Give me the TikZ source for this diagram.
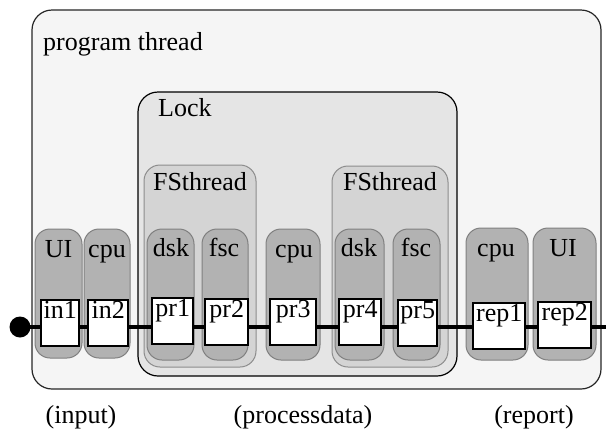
\documentclass[tikz,border=0pt]{standalone}
\usepackage{fontspec}
\setmainfont{Liberation Serif}
\pgfdeclarelayer{bg}
\pgfsetlayers{bg,main}
\tikzset{
  txt/.style={font=\rmfamily\fontsize{26}{30}\selectfont, inner sep=0pt},
  outerbox/.style={draw=black!85, line width=1.2pt, fill=black!4, rounded corners=20pt},
  lockbox/.style={draw=black, line width=1.2pt, fill=black!10, rounded corners=20pt},
  fsbox/.style={draw=black!45, line width=1pt, fill=black!17, rounded corners=16pt},
  pill/.style={draw=black!50, line width=1pt, fill=black!30, rounded corners=15pt},
  wbox/.style={draw=black, line width=2.4pt, fill=white, inner sep=0pt, anchor=north west},
  wlab/.style={txt, anchor=north, yshift=-2pt},
  flow/.style={line width=4pt, draw=black},
}
\begin{document}
\begin{tikzpicture}[x=1pt, y=-1pt]
\useasboundingbox (0,0) rectangle (606,429);

% white boxes with labels
\node[wbox, minimum width=38, minimum height=46] (in1) at (40,299) {};
\node[wlab] (in1t) at (in1.north) {in1};
\node[wbox, minimum width=40, minimum height=46] (in2) at (87,299) {};
\node[wlab] (in2t) at (in2.north) {in2};
\node[wbox, minimum width=41, minimum height=46] (pr1) at (151,297) {};
\node[wlab] (pr1t) at (pr1.north) {pr1};
\node[wbox, minimum width=43, minimum height=46] (pr2) at (204,298) {};
\node[wlab] (pr2t) at (pr2.north) {pr2};
\node[wbox, minimum width=46, minimum height=46] (pr3) at (269,298) {};
\node[wlab] (pr3t) at (pr3.north) {pr3};
\node[wbox, minimum width=42, minimum height=46] (pr4) at (338,298) {};
\node[wlab] (pr4t) at (pr4.north) {pr4};
\node[wbox, minimum width=39, minimum height=46] (pr5) at (397,299) {};
\node[wlab] (pr5t) at (pr5.north) {pr5};
\node[wbox, minimum width=52, minimum height=46] (rep1) at (472,302) {};
\node[wlab] (rep1t) at (rep1.north) {rep1};
\node[wbox, minimum width=53, minimum height=46] (rep2) at (537,301) {};
\node[wlab] (rep2t) at (rep2.north) {rep2};

% start dot and line end
\node[circle, fill=black, minimum size=21pt, inner sep=0pt] (dot) at (20,327) {};
\coordinate (lineend) at (606,327);

% container labels
\node[txt, anchor=base west] (ptl) at (43,50) {program thread};
\node[txt, anchor=base west] (lockl) at (158,116) {Lock};
\node[txt, anchor=base] (fs1l) at (200,190) {FSthread};
\node[txt, anchor=base] (fs2l) at (390,190) {FSthread};
\node[txt, anchor=base] (l1) at (58.5,257) {UI};
\node[txt, anchor=base] (l2) at (107,257) {cpu};
\node[txt, anchor=base] (l3) at (171,256) {dsk};
\node[txt, anchor=base] (l4) at (224,256) {fsc};
\node[txt, anchor=base] (l5) at (294,257) {cpu};
\node[txt, anchor=base] (l6) at (359,256) {dsk};
\node[txt, anchor=base] (l7) at (416,256) {fsc};
\node[txt, anchor=base] (l8) at (496,256) {cpu};
\node[txt, anchor=base] (l9) at (563,256) {UI};

% bottom captions
\node[txt, anchor=base] (cap1) at (81,423) {(input)};
\node[txt, anchor=base] (cap2) at (303,423) {(processdata)};
\node[txt, anchor=base] (cap3) at (534,423) {(report)};

\begin{pgfonlayer}{bg}
\draw[outerbox] (32,10) rectangle (601,389);
\draw[lockbox] (138,92) rectangle (457,376);
\draw[fsbox] (144,165) rectangle (256,367);
\draw[fsbox] (332,166) rectangle (448,367);
\draw[pill] (35,229) rectangle (82,358);
\draw[pill] (84,229) rectangle (130,358);
\draw[pill] (147,229) rectangle (194,360);
\draw[pill] (202,229) rectangle (248,360);
\draw[pill] (266,229) rectangle (320,360);
\draw[pill] (335,229) rectangle (384,360);
\draw[pill] (393,229) rectangle (440,360);
\draw[pill] (466,228) rectangle (528,360);
\draw[pill] (533,228) rectangle (596,360);
\draw[flow] (dot.center) -- (lineend);
\end{pgfonlayer}
\end{tikzpicture}
\end{document}
